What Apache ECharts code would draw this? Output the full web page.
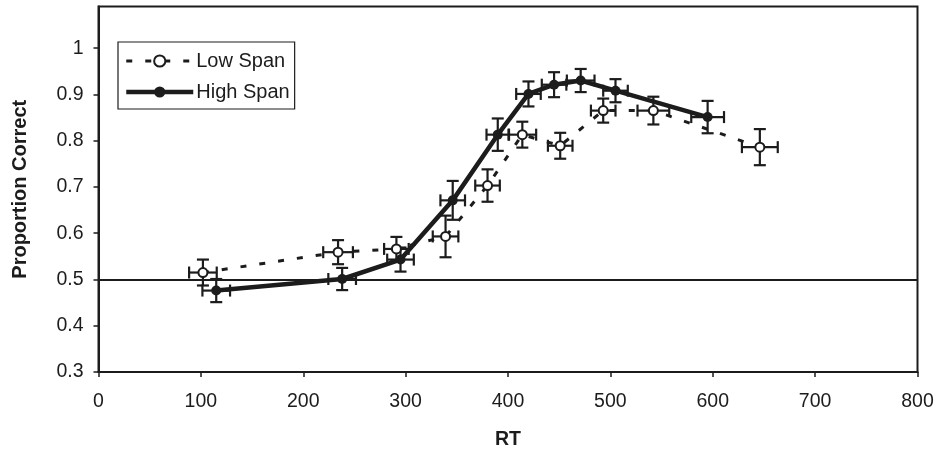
<!DOCTYPE html>
<html>
<head>
<meta charset="utf-8">
<script src="https://cdn.jsdelivr.net/npm/echarts@6/dist/echarts.min.js"></script>
<style>
  html, body { margin: 0; padding: 0; background: #ffffff; }
  #chart { width: 938px; height: 451px; }
</style>
</head>
<body>
<div id="chart"></div>
<script>
// Low span group: mean RT, proportion correct and their error half-widths
const lowRT      = [102, 234, 291, 339, 380, 414, 451, 493, 542, 646];
const lowPC      = [0.515, 0.559, 0.566, 0.593, 0.703, 0.813, 0.789, 0.865, 0.865, 0.786];
const lowRTErr   = [13.5, 14.5, 12, 12.5, 12, 13.5, 12, 12, 15.5, 17.5];
const lowPCErr   = [0.028, 0.026, 0.026, 0.045, 0.035, 0.028, 0.028, 0.026, 0.030, 0.039];

// High span group
const highRT     = [115, 238, 295, 346, 390, 420, 445, 471, 505, 595];
const highPC     = [0.476, 0.501, 0.543, 0.671, 0.813, 0.901, 0.921, 0.930, 0.908, 0.851];
const highRTErr  = [13.5, 13.5, 13, 12, 11, 12, 12, 13.5, 12, 16];
const highPCErr  = [0.025, 0.024, 0.026, 0.042, 0.035, 0.027, 0.027, 0.025, 0.025, 0.035];

// Axis ticks
const xTicks = [0, 100, 200, 300, 400, 500, 600, 700, 800];
const yTicks = [0.3, 0.4, 0.5, 0.6, 0.7, 0.8, 0.9, 1.0];
const chanceLevel = 0.5;

const INK = '#1c1c1c';
const FONT = '"Liberation Sans", Arial, sans-serif';

const points = (xs, ys) => xs.map((x, i) => [x, ys[i]]);
const errRows = (xs, ys, ex, ey) => xs.map((x, i) => [x, ys[i], ex[i], ey[i]]);

const lowLine  = { color: INK, width: 3, type: [6, 13] };
const highLine = { color: INK, width: 4.5, type: 'solid' };
const lowDot   = { color: '#ffffff', borderColor: INK, borderWidth: 2 };
const highDot  = { color: INK, borderColor: INK, borderWidth: 0 };

// Horizontal and vertical error bars with end caps
function renderErr(params, api) {
  const x = api.value(0), y = api.value(1), ex = api.value(2), ey = api.value(3);
  const c = api.coord([x, y]);
  const l = api.coord([x - ex, y]);
  const r = api.coord([x + ex, y]);
  const t = api.coord([x, y + ey]);
  const b = api.coord([x, y - ey]);
  const cap = 6;
  const style = { stroke: INK, lineWidth: 2.2, fill: null };
  const seg = (x1, y1, x2, y2) => ({ type: 'line', shape: { x1, y1, x2, y2 }, style });
  return {
    type: 'group',
    children: [
      seg(l[0], c[1], r[0], c[1]),
      seg(l[0], c[1] - cap, l[0], c[1] + cap),
      seg(r[0], c[1] - cap, r[0], c[1] + cap),
      seg(c[0], t[1], c[0], b[1]),
      seg(c[0] - cap, t[1], c[0] + cap, t[1]),
      seg(c[0] - cap, b[1], c[0] + cap, b[1])
    ]
  };
}

const chart = echarts.init(document.getElementById('chart'), null, { renderer: 'canvas' });

chart.setOption({
  animation: false,
  backgroundColor: '#ffffff',
  textStyle: { fontFamily: FONT, color: INK },
  grid: {
    left: 98.5, right: 20.5, top: 6.5, bottom: 79,
    outerBoundsMode: 'none', containLabel: false,
    show: true, borderColor: INK, borderWidth: 2, backgroundColor: 'transparent'
  },
  legend: {
    data: [
      { name: 'Low Span', lineStyle: lowLine, itemStyle: lowDot },
      { name: 'High Span', lineStyle: highLine, itemStyle: highDot }
    ],
    orient: 'vertical',
    left: 118, top: 42,
    padding: [9, 5, 7, 6],
    itemWidth: 67, itemHeight: 14, itemGap: 11,
    borderColor: INK, borderWidth: 1.2,
    backgroundColor: '#ffffff',
    textStyle: { fontFamily: FONT, fontSize: 20, color: INK, padding: [0, 0, 0, -2] }
  },
  xAxis: {
    type: 'value',
    min: xTicks[0], max: xTicks[xTicks.length - 1], interval: 100,
    name: 'RT', nameLocation: 'middle', nameGap: 58,
    nameTextStyle: { fontFamily: FONT, fontSize: 19.5, fontWeight: 'bold', color: INK },
    axisLine: { show: true, onZero: false, lineStyle: { color: INK, width: 2 } },
    axisTick: { show: true, length: 5, lineStyle: { color: INK, width: 1.5 } },
    axisLabel: { fontFamily: FONT, fontSize: 19.5, color: INK, margin: 20 },
    splitLine: { show: false }
  },
  yAxis: {
    type: 'value',
    min: yTicks[0], max: 1.09, interval: 0.1,
    name: 'Proportion Correct', nameLocation: 'middle', nameGap: 68,
    nameTextStyle: { fontFamily: FONT, fontSize: 20, fontWeight: 'bold', color: INK },
    axisLine: { show: true, onZero: false, lineStyle: { color: INK, width: 2 } },
    axisTick: { show: true, length: 5, lineStyle: { color: INK, width: 1.5 } },
    axisLabel: {
      fontFamily: FONT, fontSize: 19.5, color: INK, margin: 15, showMaxLabel: false,
      formatter: v => String(Math.round(v * 10) / 10)
    },
    splitLine: { show: false }
  },
  series: [
    {
      name: 'lowErr', type: 'custom', z: 2,
      renderItem: renderErr,
      data: errRows(lowRT, lowPC, lowRTErr, lowPCErr),
      encode: { x: 0, y: 1 }
    },
    {
      name: 'highErr', type: 'custom', z: 2,
      renderItem: renderErr,
      data: errRows(highRT, highPC, highRTErr, highPCErr),
      encode: { x: 0, y: 1 }
    },
    {
      name: 'Low Span', type: 'line', z: 3,
      data: points(lowRT, lowPC),
      symbol: 'circle', symbolSize: 9,
      lineStyle: lowLine,
      itemStyle: lowDot,
      markLine: {
        silent: true, symbol: 'none', label: { show: false },
        lineStyle: { color: INK, width: 2, type: 'solid' },
        data: [{ yAxis: chanceLevel }]
      }
    },
    {
      name: 'High Span', type: 'line', z: 4,
      data: points(highRT, highPC),
      symbol: 'circle', symbolSize: 10,
      lineStyle: highLine,
      itemStyle: highDot
    }
  ]
});
</script>
</body>
</html>
